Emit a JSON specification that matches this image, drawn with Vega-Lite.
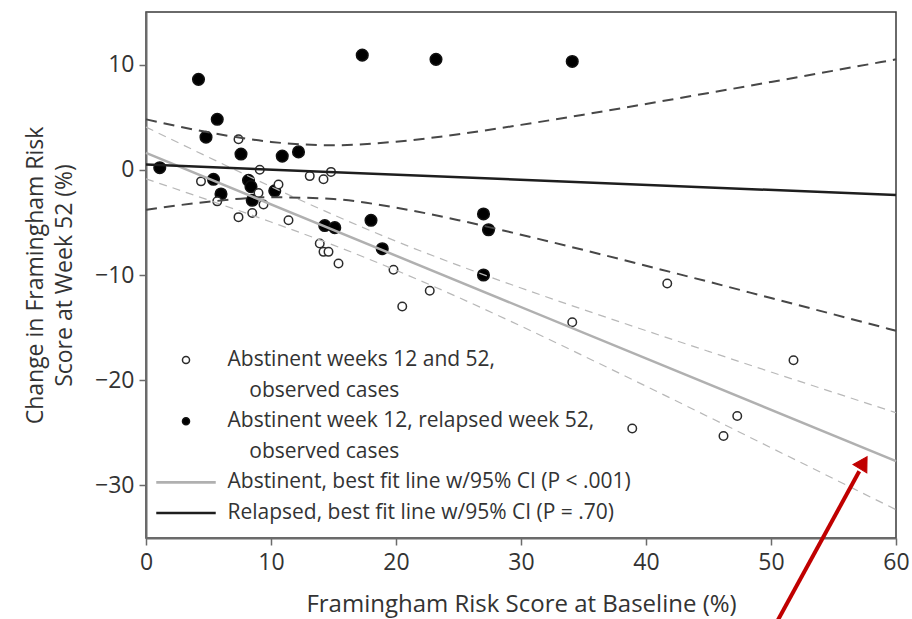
{
  "$schema": "https://vega.github.io/schema/vega-lite/v6.json",
  "width": 750,
  "height": 526,
  "autosize": {"type": "none"},
  "padding": {"left": 146, "top": 12, "right": 16, "bottom": 81},
  "background": "white",
  "config": {
    "font": "Open Sans",
    "view": {"stroke": "#3a3a3a", "strokeWidth": 1.5},
    "point": {"strokeWidth": 1.5},
    "line": {"strokeWidth": 2.5},
    "axis": {
      "domainColor": "#6b6b6b", "domainWidth": 2, "tickColor": "#6b6b6b", "tickWidth": 1.5, "tickSize": 7,
      "labelFontSize": 23, "labelColor": "#333333", "titleFontSize": 23, "titleFontWeight": "normal",
      "titleColor": "#333333", "grid": false, "labelOverlap": false, "labelFlush": false
    }
  },
  "datasets": {
    "points": [
      {"series": "R_obs", "baseline": 4.2, "change": 8.6},
      {"series": "R_obs", "baseline": 5.7, "change": 4.8},
      {"series": "R_obs", "baseline": 4.8, "change": 3.1},
      {"series": "R_obs", "baseline": 7.6, "change": 1.5},
      {"series": "R_obs", "baseline": 10.9, "change": 1.3},
      {"series": "R_obs", "baseline": 12.2, "change": 1.7},
      {"series": "R_obs", "baseline": 1.1, "change": 0.2},
      {"series": "R_obs", "baseline": 8.2, "change": -1.0},
      {"series": "R_obs", "baseline": 8.4, "change": -1.6},
      {"series": "R_obs", "baseline": 6.0, "change": -2.3},
      {"series": "R_obs", "baseline": 8.5, "change": -2.9},
      {"series": "R_obs", "baseline": 10.3, "change": -2.0},
      {"series": "R_obs", "baseline": 5.4, "change": -0.9},
      {"series": "R_obs", "baseline": 18.0, "change": -4.8},
      {"series": "R_obs", "baseline": 17.3, "change": 10.9},
      {"series": "R_obs", "baseline": 23.2, "change": 10.5},
      {"series": "R_obs", "baseline": 34.1, "change": 10.3},
      {"series": "R_obs", "baseline": 27.0, "change": -4.2},
      {"series": "R_obs", "baseline": 27.4, "change": -5.7},
      {"series": "R_obs", "baseline": 27.0, "change": -10.0},
      {"series": "R_obs", "baseline": 18.9, "change": -7.5},
      {"series": "R_obs", "baseline": 14.3, "change": -5.3},
      {"series": "R_obs", "baseline": 15.1, "change": -5.5},
      {"series": "A_obs", "baseline": 7.4, "change": 2.9},
      {"series": "A_obs", "baseline": 9.1, "change": 0.0},
      {"series": "A_obs", "baseline": 13.1, "change": -0.6},
      {"series": "A_obs", "baseline": 14.2, "change": -0.9},
      {"series": "A_obs", "baseline": 14.8, "change": -0.2},
      {"series": "A_obs", "baseline": 4.4, "change": -1.1},
      {"series": "A_obs", "baseline": 10.6, "change": -1.4},
      {"series": "A_obs", "baseline": 9.0, "change": -2.2},
      {"series": "A_obs", "baseline": 9.4, "change": -3.3},
      {"series": "A_obs", "baseline": 5.7, "change": -3.0},
      {"series": "A_obs", "baseline": 7.4, "change": -4.5},
      {"series": "A_obs", "baseline": 8.5, "change": -4.1},
      {"series": "A_obs", "baseline": 11.4, "change": -4.8},
      {"series": "A_obs", "baseline": 13.9, "change": -7.0},
      {"series": "A_obs", "baseline": 14.2, "change": -7.8},
      {"series": "A_obs", "baseline": 14.6, "change": -7.8},
      {"series": "A_obs", "baseline": 15.4, "change": -8.9},
      {"series": "A_obs", "baseline": 19.8, "change": -9.5},
      {"series": "A_obs", "baseline": 22.7, "change": -11.5},
      {"series": "A_obs", "baseline": 20.5, "change": -13.0},
      {"series": "A_obs", "baseline": 34.1, "change": -14.5},
      {"series": "A_obs", "baseline": 41.7, "change": -10.8},
      {"series": "A_obs", "baseline": 38.9, "change": -24.6},
      {"series": "A_obs", "baseline": 46.2, "change": -25.3},
      {"series": "A_obs", "baseline": 47.3, "change": -23.4},
      {"series": "A_obs", "baseline": 51.8, "change": -18.1}
    ],
    "fits": [
      {"series": "A_fit", "baseline": 0, "change": 1.6},
      {"series": "A_fit", "baseline": 60, "change": -27.7},
      {"series": "R_fit", "baseline": 0, "change": 0.5},
      {"series": "R_fit", "baseline": 60, "change": -2.4}
    ],
    "ci": [
      {"group": "A_up", "baseline": 0, "change": 4.06}, {"group": "A_up", "baseline": 5, "change": 1.2},
      {"group": "A_up", "baseline": 10, "change": -1.6}, {"group": "A_up", "baseline": 15, "change": -4.28},
      {"group": "A_up", "baseline": 20, "change": -6.79}, {"group": "A_up", "baseline": 25, "change": -9.09},
      {"group": "A_up", "baseline": 30, "change": -11.24}, {"group": "A_up", "baseline": 35, "change": -13.29},
      {"group": "A_up", "baseline": 40, "change": -15.29}, {"group": "A_up", "baseline": 45, "change": -17.26},
      {"group": "A_up", "baseline": 50, "change": -19.22}, {"group": "A_up", "baseline": 55, "change": -21.16},
      {"group": "A_up", "baseline": 60, "change": -23.09},
      {"group": "A_lo", "baseline": 0, "change": -0.86}, {"group": "A_lo", "baseline": 5, "change": -2.88},
      {"group": "A_lo", "baseline": 10, "change": -4.96}, {"group": "A_lo", "baseline": 15, "change": -7.16},
      {"group": "A_lo", "baseline": 20, "change": -9.55}, {"group": "A_lo", "baseline": 25, "change": -12.13},
      {"group": "A_lo", "baseline": 30, "change": -14.86}, {"group": "A_lo", "baseline": 35, "change": -17.69},
      {"group": "A_lo", "baseline": 40, "change": -20.57}, {"group": "A_lo", "baseline": 45, "change": -23.48},
      {"group": "A_lo", "baseline": 50, "change": -26.42}, {"group": "A_lo", "baseline": 55, "change": -29.36},
      {"group": "A_lo", "baseline": 60, "change": -32.31},
      {"group": "R_up", "baseline": 0, "change": 4.8}, {"group": "R_up", "baseline": 5, "change": 3.56},
      {"group": "R_up", "baseline": 10, "change": 2.65}, {"group": "R_up", "baseline": 15, "change": 2.33},
      {"group": "R_up", "baseline": 20, "change": 2.67}, {"group": "R_up", "baseline": 25, "change": 3.38},
      {"group": "R_up", "baseline": 30, "change": 4.27}, {"group": "R_up", "baseline": 35, "change": 5.24},
      {"group": "R_up", "baseline": 40, "change": 6.26}, {"group": "R_up", "baseline": 45, "change": 7.3},
      {"group": "R_up", "baseline": 50, "change": 8.35}, {"group": "R_up", "baseline": 55, "change": 9.42},
      {"group": "R_up", "baseline": 60, "change": 10.5},
      {"group": "R_lo", "baseline": 0, "change": -3.8}, {"group": "R_lo", "baseline": 5, "change": -3.04},
      {"group": "R_lo", "baseline": 10, "change": -2.61}, {"group": "R_lo", "baseline": 15, "change": -2.78},
      {"group": "R_lo", "baseline": 20, "change": -3.6}, {"group": "R_lo", "baseline": 25, "change": -4.79},
      {"group": "R_lo", "baseline": 30, "change": -6.17}, {"group": "R_lo", "baseline": 35, "change": -7.62},
      {"group": "R_lo", "baseline": 40, "change": -9.12}, {"group": "R_lo", "baseline": 45, "change": -10.64},
      {"group": "R_lo", "baseline": 50, "change": -12.19}, {"group": "R_lo", "baseline": 55, "change": -13.74},
      {"group": "R_lo", "baseline": 60, "change": -15.3}
    ],
    "arrow": [
      {"baseline": 50.0, "change": -44.0},
      {"baseline": 57.06, "change": -28.66}
    ],
    "arrowhead": [
      {"baseline": 57.4, "change": -27.84}
    ]
  },
  "layer": [
    {
      "data": {"name": "points"},
      "transform": [{"filter": "datum.series == 'R_obs'"}],
      "mark": {"type": "point", "filled": true, "size": 135, "opacity": 1},
      "encoding": {
        "x": {"field": "baseline", "type": "quantitative", "title": "Framingham Risk Score at Baseline (%)",
          "scale": {"domain": [0, 60], "nice": false, "zero": false},
          "axis": {"values": [0, 10, 20, 30, 40, 50, 60], "labelPadding": 6, "titlePadding": 18, "titleFontSize": 24}},
        "y": {"field": "change", "type": "quantitative", "title": ["Change in Framingham Risk", "Score at Week 52 (%)"],
          "scale": {"domain": [-35, 15], "nice": false, "zero": false},
          "axis": {"values": [-30, -20, -10, 0, 10], "labelPadding": 5, "titlePadding": 18, "titleLineHeight": 29}},
        "shape": {"field": "series", "type": "nominal",
          "scale": {"domain": ["A_obs", "A_obs_2", "R_obs", "R_obs_2", "A_fit", "R_fit"],
            "range": ["circle", "circle", "circle", "circle", "M-8.2,-0.15H8.2V0.15H-8.2Z", "M-8.2,-0.15H8.2V0.15H-8.2Z"]},
          "legend": {"title": null, "orient": "none", "legendX": 11, "legendY": 337.5, "padding": 0, "labelFontSize": 21, "labelColor": "#333333", "rowPadding": 8.6, "symbolSize": 50, "symbolOffset": 18.5, "labelOffset": 31, "labelLimit": 0,
            "labelExpr": "datum.value == 'A_obs' ? 'Abstinent weeks 12 and 52,' : datum.value == 'R_obs' ? 'Abstinent week 12, relapsed week 52,' : datum.value == 'A_fit' ? 'Abstinent, best fit line w/95% CI (P < .001)' : datum.value == 'R_fit' ? 'Relapsed, best fit line w/95% CI (P = .70)' : '\u200b\u00a0\u00a0\u00a0\u00a0observed cases'"}},
        "fill": {"field": "series", "type": "nominal",
          "scale": {"domain": ["A_obs", "A_obs_2", "R_obs", "R_obs_2", "A_fit", "R_fit"],
            "range": ["white", "transparent", "black", "transparent", "#b0b0b0", "#1e1e1e"]},
          "legend": {"title": null, "orient": "none", "legendX": 11, "legendY": 337.5, "padding": 0, "labelFontSize": 21, "labelColor": "#333333", "rowPadding": 8.6, "symbolSize": 50, "symbolOffset": 18.5, "labelOffset": 31, "labelLimit": 0,
            "labelExpr": "datum.value == 'A_obs' ? 'Abstinent weeks 12 and 52,' : datum.value == 'R_obs' ? 'Abstinent week 12, relapsed week 52,' : datum.value == 'A_fit' ? 'Abstinent, best fit line w/95% CI (P < .001)' : datum.value == 'R_fit' ? 'Relapsed, best fit line w/95% CI (P = .70)' : '\u200b\u00a0\u00a0\u00a0\u00a0observed cases'"}},
        "stroke": {"field": "series", "type": "nominal",
          "scale": {"domain": ["A_obs", "A_obs_2", "R_obs", "R_obs_2", "A_fit", "R_fit"],
            "range": ["#2b2b2b", "transparent", "#111111", "transparent", "#b0b0b0", "#1e1e1e"]},
          "legend": {"title": null, "orient": "none", "legendX": 11, "legendY": 337.5, "padding": 0, "labelFontSize": 21, "labelColor": "#333333", "rowPadding": 8.6, "symbolSize": 50, "symbolOffset": 18.5, "labelOffset": 31, "labelLimit": 0,
            "labelExpr": "datum.value == 'A_obs' ? 'Abstinent weeks 12 and 52,' : datum.value == 'R_obs' ? 'Abstinent week 12, relapsed week 52,' : datum.value == 'A_fit' ? 'Abstinent, best fit line w/95% CI (P < .001)' : datum.value == 'R_fit' ? 'Relapsed, best fit line w/95% CI (P = .70)' : '\u200b\u00a0\u00a0\u00a0\u00a0observed cases'"}}
      }
    },
    {
      "data": {"name": "points"},
      "transform": [{"filter": "datum.series == 'A_obs'"}],
      "mark": {"type": "point", "filled": true, "size": 72, "opacity": 1},
      "encoding": {
        "x": {"field": "baseline", "type": "quantitative", "title": "Framingham Risk Score at Baseline (%)"},
        "y": {"field": "change", "type": "quantitative", "title": ["Change in Framingham Risk", "Score at Week 52 (%)"]},
        "shape": {"field": "series", "type": "nominal"},
        "fill": {"field": "series", "type": "nominal"},
        "stroke": {"field": "series", "type": "nominal"}
      }
    },
    {
      "data": {"name": "ci"},
      "transform": [{"filter": "datum.group == 'A_up' || datum.group == 'A_lo'"}],
      "mark": {"type": "line", "interpolate": "monotone", "stroke": "#b8b8b8", "strokeWidth": 1.2, "strokeDash": [8, 6]},
      "encoding": {
        "x": {"field": "baseline", "type": "quantitative", "title": "Framingham Risk Score at Baseline (%)"},
        "y": {"field": "change", "type": "quantitative", "title": ["Change in Framingham Risk", "Score at Week 52 (%)"]},
        "detail": {"field": "group", "type": "nominal"}
      }
    },
    {
      "data": {"name": "ci"},
      "transform": [{"filter": "datum.group == 'R_up' || datum.group == 'R_lo'"}],
      "mark": {"type": "line", "interpolate": "monotone", "stroke": "#474747", "strokeWidth": 2, "strokeDash": [11, 7]},
      "encoding": {
        "x": {"field": "baseline", "type": "quantitative", "title": "Framingham Risk Score at Baseline (%)"},
        "y": {"field": "change", "type": "quantitative", "title": ["Change in Framingham Risk", "Score at Week 52 (%)"]},
        "detail": {"field": "group", "type": "nominal"}
      }
    },
    {
      "data": {"name": "fits"},
      "mark": {"type": "line"},
      "encoding": {
        "x": {"field": "baseline", "type": "quantitative", "title": "Framingham Risk Score at Baseline (%)"},
        "y": {"field": "change", "type": "quantitative", "title": ["Change in Framingham Risk", "Score at Week 52 (%)"]},
        "stroke": {"field": "series", "type": "nominal"}
      }
    },
    {
      "data": {"name": "arrow"},
      "mark": {"type": "line", "stroke": "#c00000", "strokeWidth": 4, "clip": false},
      "encoding": {
        "x": {"field": "baseline", "type": "quantitative", "title": "Framingham Risk Score at Baseline (%)"},
        "y": {"field": "change", "type": "quantitative", "title": ["Change in Framingham Risk", "Score at Week 52 (%)"]}
      }
    },
    {
      "data": {"name": "arrowhead"},
      "mark": {"type": "point", "shape": "triangle-up", "filled": true, "size": 260, "angle": 31, "fill": "#c00000", "stroke": "#c00000", "strokeWidth": 1, "opacity": 1, "clip": false},
      "encoding": {
        "x": {"field": "baseline", "type": "quantitative", "title": "Framingham Risk Score at Baseline (%)"},
        "y": {"field": "change", "type": "quantitative", "title": ["Change in Framingham Risk", "Score at Week 52 (%)"]}
      }
    }
  ]
}
